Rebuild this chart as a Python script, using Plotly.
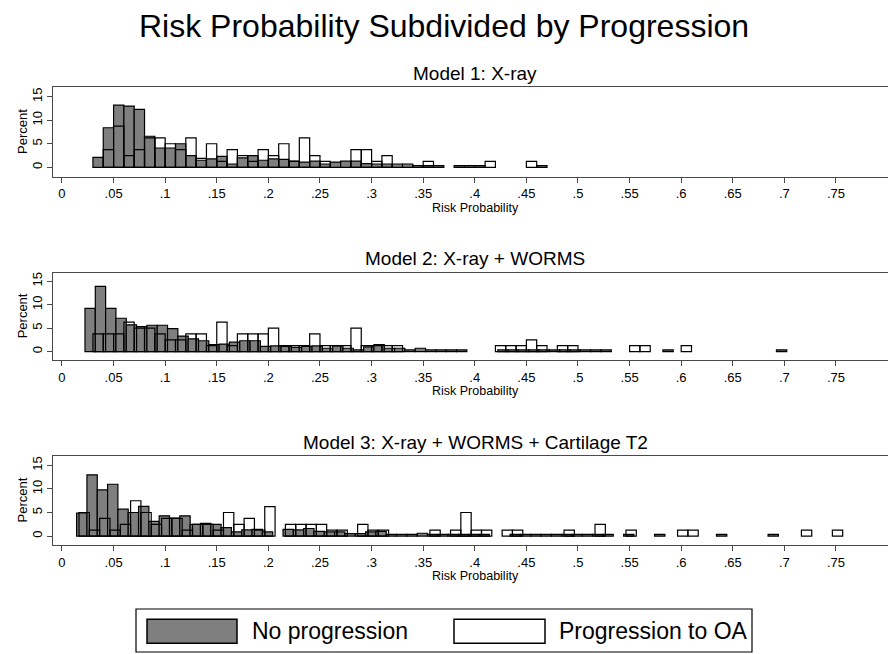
import plotly.graph_objects as go

BIN = 0.01  # histogram bin width (risk probability units)

# ---------------- Model 1: X-ray ----------------
m1_none_start = 0.03
m1_none = [2.1, 8.4, 13.2, 13.0, 12.3, 6.6, 4.1, 4.1, 5.0, 2.5,
           1.5, 1.8, 2.3, 0.7, 2.0, 2.5, 1.5, 1.8, 1.7, 1.3,
           1.1, 1.3, 0.7, 1.1, 1.3, 1.3, 0.8, 0.7, 0.7, 0.7,
           0.7, 0.35, 0.35, 0.35, None, 0.35, 0.35, 0.35, None, None,
           None, None, None, 0.35]
m1_prog_start = 0.03
m1_prog = [None, 3.75, 8.75, 2.5, 3.75, 6.25, 6.25, 5.0, 3.75, 6.25,
           1.9, 5.0, 1.25, 3.75, 2.5, 1.25, 3.75, 2.5, 5.0, 1.25,
           6.25, 2.5, 1.25, None, None, 3.75, 3.75, 1.25, 2.5, None,
           None, None, 1.25, None, None, None, None, None, 1.25, None,
           None, None, 1.25]

# ---------------- Model 2: X-ray + WORMS ----------------
m2_none_start = 0.0223
m2_none = [9.2, 13.9, 9.2, 7.1, 5.7, 5.3, 5.6, 5.6, 4.9, 3.3,
           2.7, 2.3, 1.5, 1.6, 2.0, 2.3, 2.3, 1.1, 1.2, 1.1,
           0.9, 1.1, 1.2, 0.7, 1.2, 0.7, 0.35, 1.0, 1.5, 0.7,
           0.7, 0.35, 0.7, 0.35, 0.35, 0.35, 0.35, None, None, None,
           0.35, 0.35, 0.35, 0.35, 0.35, 0.35, 0.35, 0.35, 0.35, 0.35,
           0.35, None, None, None, None, None, 0.35, None, None, None,
           None, None, None, None, None, None, None, 0.35]
m2_prog_start = 0.03
m2_prog = [3.75, 3.75, 3.75, 6.25, 5.0, 5.0, 3.75, 2.5, 2.5, 3.75,
           3.75, 1.25, 6.25, 1.25, 3.75, 3.75, 3.75, 5.0, 1.25, 1.25,
           1.25, 3.75, 1.25, 1.25, 1.25, 5.0, 1.25, 1.25, 1.25, 1.25,
           None, None, None, None, None, None, None, None, None, 1.25,
           1.25, 1.25, 2.5, 1.25, None, 1.25, 1.25, None, None, None,
           None, None, 1.25, 1.25, None, None, None, 1.25]

# ---------------- Model 3: X-ray + WORMS + Cartilage T2 ----------------
m3_none_start = 0.0142
m3_none = [4.9, 13.0, 9.8, 11.0, 5.7, 5.0, 6.3, 3.1, 4.3, 3.8,
           4.3, 2.5, 2.7, 2.5, 1.8, 0.9, 1.3, 1.4, 0.9, None,
           1.4, 1.3, 1.6, 1.0, 0.9, 0.9, 0.5, 0.5, 0.9, 1.0,
           0.35, 0.35, 0.35, 0.6, 0.35, 0.35, 0.35, 0.35, 0.35, 0.35,
           None, None, 0.35, 0.35, 0.35, 0.35, 0.35, 0.35, 0.35, 0.35,
           0.35, 0.35, None, 0.35, None, None, 0.35, None, None, None,
           None, None, 0.35, None, None, None, None, 0.35]
m3_prog_start = 0.0165
m3_prog = [5.0, 1.25, 3.75, 1.25, 2.5, 7.5, 5.0, 2.5, 3.75, 3.75,
           1.25, 2.5, 2.5, 1.25, 5.0, 2.5, 3.75, 1.25, 6.25, None,
           2.5, 2.5, 2.5, 2.5, 1.25, 1.25, None, 2.5, 1.25, 1.25,
           None, None, None, None, 1.25, None, 1.25, 5.0, 1.25, 1.25,
           None, 1.25, 1.25, None, None, None, None, 1.25, None, None,
           2.5, None, None, 1.25, None, None, None, None, 1.25, 1.25,
           None, None, None, None, None, None, None, None, None, None,
           1.25, None, None, 1.25]

panel_titles = ["Model 1: X-ray", "Model 2: X-ray + WORMS",
                "Model 3: X-ray + WORMS + Cartilage T2"]
series_names = ["No progression", "Progression to OA"]
x_tickvals = [0, 0.05, 0.1, 0.15, 0.2, 0.25, 0.3, 0.35, 0.4, 0.45, 0.5,
              0.55, 0.6, 0.65, 0.7, 0.75]
x_ticktext = ["0", ".05", ".1", ".15", ".2", ".25", ".3", ".35", ".4", ".45",
              ".5", ".55", ".6", ".65", ".7", ".75"]
y_tickvals = [0, 5, 10, 15]

panels = [
    (m1_none_start, m1_none, m1_prog_start, m1_prog),
    (m2_none_start, m2_none, m2_prog_start, m2_prog),
    (m3_none_start, m3_none, m3_prog_start, m3_prog),
]

W, H = 888, 654
FONT = "Liberation Sans, Arial, Helvetica, sans-serif"
GREY = "#7f7f7f"
FRAME = "#4a4a4a"

def py(p):  # pixel row -> paper y
    return 1 - p / H

def px(p):  # pixel column -> paper x
    return p / W

# panel geometry (pixels): (top, bottom, y-range)
geom = [(87.3, 176.7, [-2.0, 17.0]),
        (272.7, 360.0, [-1.8, 16.8]),
        (456.0, 545.0, [-1.9, 17.0])]

fig = go.Figure()
layout = dict(width=W, height=H, autosize=False,
              margin=dict(l=0, r=0, t=0, b=0),
              paper_bgcolor="white", plot_bgcolor="white",
              barmode="overlay", showlegend=False,
              font=dict(family=FONT, color="black", size=13))
annotations = []
shapes = []

for i, (gs, gv, ws, wv) in enumerate(panels):
    n = i + 1
    xa = "x" if n == 1 else f"x{n}"
    ya = "y" if n == 1 else f"y{n}"
    gx = [gs + k * BIN for k in range(len(gv))]
    wx = [ws + k * BIN for k in range(len(wv))]
    fig.add_trace(go.Bar(x=gx, y=gv, width=BIN, offset=0, name=series_names[0],
                         marker=dict(color=GREY, line=dict(color="black", width=1.2)),
                         xaxis=xa, yaxis=ya))
    fig.add_trace(go.Bar(x=wx, y=wv, width=BIN, offset=0, name=series_names[1],
                         marker=dict(color="rgba(0,0,0,0)", line=dict(color="black", width=1.2)),
                         xaxis=xa, yaxis=ya))
    top, bot, yr = geom[i]
    xkey = "xaxis" if n == 1 else f"xaxis{n}"
    ykey = "yaxis" if n == 1 else f"yaxis{n}"
    layout[xkey] = dict(domain=[px(53.3), 1.0], range=[-0.0084, 0.8004],
                        anchor=ya, showline=True, mirror=True, linecolor=FRAME,
                        linewidth=1.3, ticks="outside", ticklen=5, tickwidth=1.2,
                        tickcolor=FRAME, tickvals=x_tickvals, ticktext=x_ticktext,
                        showgrid=False, zeroline=False,
                        tickfont=dict(size=13, family=FONT, color="black"))
    layout[ykey] = dict(domain=[py(bot), py(top)], range=yr, anchor=xa,
                        showline=True, linecolor=FRAME, linewidth=1.3,
                        ticks="outside", ticklen=5, tickwidth=1.2, tickcolor=FRAME,
                        tickvals=y_tickvals, tickangle=-90, showgrid=False,
                        zeroline=False,
                        tickfont=dict(size=13, family=FONT, color="black"))
    annotations.append(dict(text=panel_titles[i], x=px(475), y=py(top - 14),
                            xref="paper", yref="paper", showarrow=False,
                            xanchor="center", yanchor="middle",
                            font=dict(size=19, family=FONT, color="black")))
    annotations.append(dict(text="Risk Probability", x=px(476), y=py(bot + 31),
                            xref="paper", yref="paper", showarrow=False,
                            xanchor="center", yanchor="middle",
                            font=dict(size=12.5, family=FONT, color="black")))
    annotations.append(dict(text="Percent", x=px(22), y=py((top + bot) / 2),
                            xref="paper", yref="paper", showarrow=False,
                            textangle=-90, xanchor="center", yanchor="middle",
                            font=dict(size=13, family=FONT, color="black")))

annotations.append(dict(text="Risk Probability Subdivided by Progression",
                        x=0.5, y=py(26), xref="paper", yref="paper",
                        showarrow=False, xanchor="center", yanchor="middle",
                        font=dict(size=32, family=FONT, color="black")))

# legend box drawn in layout space
shapes.append(dict(type="rect", xref="paper", yref="paper",
                   x0=px(136), x1=px(752), y0=py(652), y1=py(609),
                   line=dict(color="black", width=1.2), fillcolor="white"))
shapes.append(dict(type="rect", xref="paper", yref="paper",
                   x0=px(147), x1=px(237), y0=py(643.3), y1=py(619.3),
                   line=dict(color="black", width=1.5), fillcolor=GREY))
shapes.append(dict(type="rect", xref="paper", yref="paper",
                   x0=px(454), x1=px(545), y0=py(643.3), y1=py(619.3),
                   line=dict(color="black", width=1.5), fillcolor="white"))
annotations.append(dict(text=series_names[0], x=px(250), y=py(631),
                        xref="paper", yref="paper", showarrow=False,
                        xanchor="left", yanchor="middle",
                        font=dict(size=23, family=FONT, color="black")))
annotations.append(dict(text=series_names[1], x=px(557), y=py(631),
                        xref="paper", yref="paper", showarrow=False,
                        xanchor="left", yanchor="middle",
                        font=dict(size=23, family=FONT, color="black")))

layout["annotations"] = annotations
layout["shapes"] = shapes
fig.update_layout(**layout)
fig.write_html("out.html",
               config={"displayModeBar": False},
               post_script="document.body.style.margin='0';"
                           "document.body.style.padding='0';"
                           "document.body.style.overflow='hidden';")
